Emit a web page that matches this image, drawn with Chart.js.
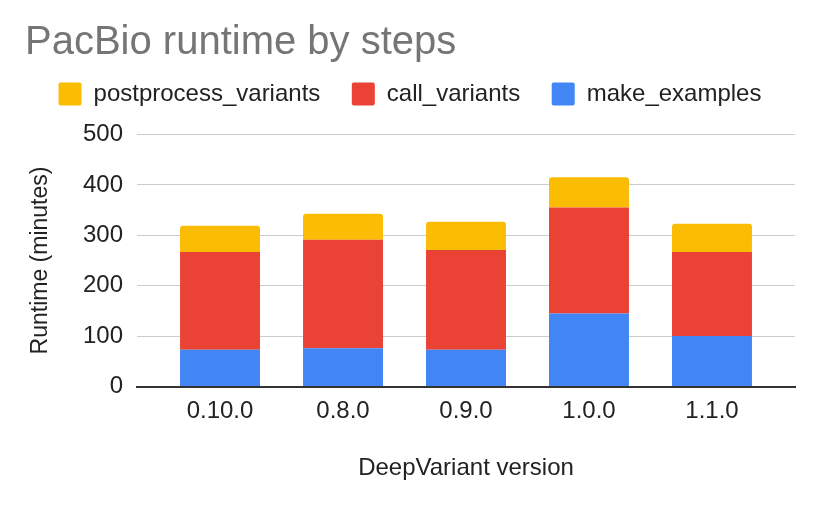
<!DOCTYPE html>
<html>
<head>
<meta charset="utf-8">
<script src="https://cdn.jsdelivr.net/npm/chart.js@4/dist/chart.umd.min.js"></script>
<style>
html,body{margin:0;padding:0;background:#fff;}
#wrap{width:820px;height:508px;}
</style>
</head>
<body>
<div id="wrap"><canvas id="c" width="820" height="508"></canvas></div>
<script>
const versions = ['0.10.0', '0.8.0', '0.9.0', '1.0.0', '1.1.0'];
const makeExamples = [73, 76, 73, 145, 100];
const callVariants = [194, 215, 198, 210, 167];
const postprocessVariants = [52, 52, 56, 60, 56];
const yTicks = [0, 100, 200, 300, 400, 500];

const FONT = "'Liberation Sans', Arial, sans-serif";
const toPoints = arr => arr.map((v, i) => ({x: i, y: v}));

new Chart(document.getElementById('c'), {
  type: 'bar',
  data: {
    datasets: [
      {label: 'make_examples', data: toPoints(makeExamples), backgroundColor: '#4285F4'},
      {label: 'call_variants', data: toPoints(callVariants), backgroundColor: '#EA4335'},
      {label: 'postprocess_variants', data: toPoints(postprocessVariants), backgroundColor: '#FBBC04',
       borderRadius: {topLeft: 3, topRight: 3, bottomLeft: 0, bottomRight: 0}, borderSkipped: false}
    ]
  },
  options: {
    responsive: false,
    animation: false,
    devicePixelRatio: 1,
    layout: {padding: {top: 19, left: 25, right: 25, bottom: 0}},
    datasets: {bar: {categoryPercentage: 1, barPercentage: 0.65}},
    plugins: {
      tooltip: {enabled: false},
      title: {
        display: true,
        text: 'PacBio runtime by steps',
        align: 'start',
        color: '#757575',
        font: {family: FONT, size: 40, weight: 'normal', lineHeight: 1.2},
        padding: {top: 0, bottom: -16.5}
      },
      legend: {
        display: true,
        position: 'top',
        align: 'center',
        reverse: true,
        labels: {
          color: '#222222',
          font: {family: FONT, size: 24},
          boxWidth: 23,
          boxHeight: 23,
          padding: 31.5,
          useBorderRadius: true,
          borderRadius: 2
        }
      }
    },
    scales: {
      x: {
        type: 'linear',
        stacked: true,
        offset: false,
        min: -0.675,
        max: 4.675,
        afterBuildTicks: s => { s.ticks = versions.map((_, i) => ({value: i})); },
        afterFit: s => { s.height = 121.5; },
        grid: {display: false, drawTicks: false},
        border: {display: true, color: '#333333', width: 2, z: 1},
        ticks: {
          autoSkip: false, maxRotation: 0, minRotation: 0, padding: 10,
          color: '#222222', font: {family: FONT, size: 24},
          callback: v => versions[v]
        },
        title: {
          display: true, text: 'DeepVariant version', color: '#222222',
          font: {family: FONT, size: 24}, padding: {top: 20, bottom: 25.6}
        }
      },
      spacer: {
        axis: 'x', type: 'linear', position: 'top', display: true,
        grid: {display: false, drawTicks: false}, border: {display: false},
        ticks: {display: false},
        afterFit: s => { s.height = 18.5; }
      },
      y: {
        stacked: true,
        min: 0,
        max: 500,
        afterBuildTicks: s => { s.ticks = yTicks.map(v => ({value: v})); },
        afterFit: s => { s.width = 112; },
        grid: {color: '#cccccc', lineWidth: 1, drawTicks: false},
        border: {display: false},
        ticks: {padding: 14, color: '#222222', font: {family: FONT, size: 24}},
        title: {
          display: true, text: 'Runtime (minutes)', color: '#222222',
          font: {family: FONT, size: 23}, padding: {top: 1.5, bottom: 0}
        }
      }
    }
  }
});
</script>
</body>
</html>
